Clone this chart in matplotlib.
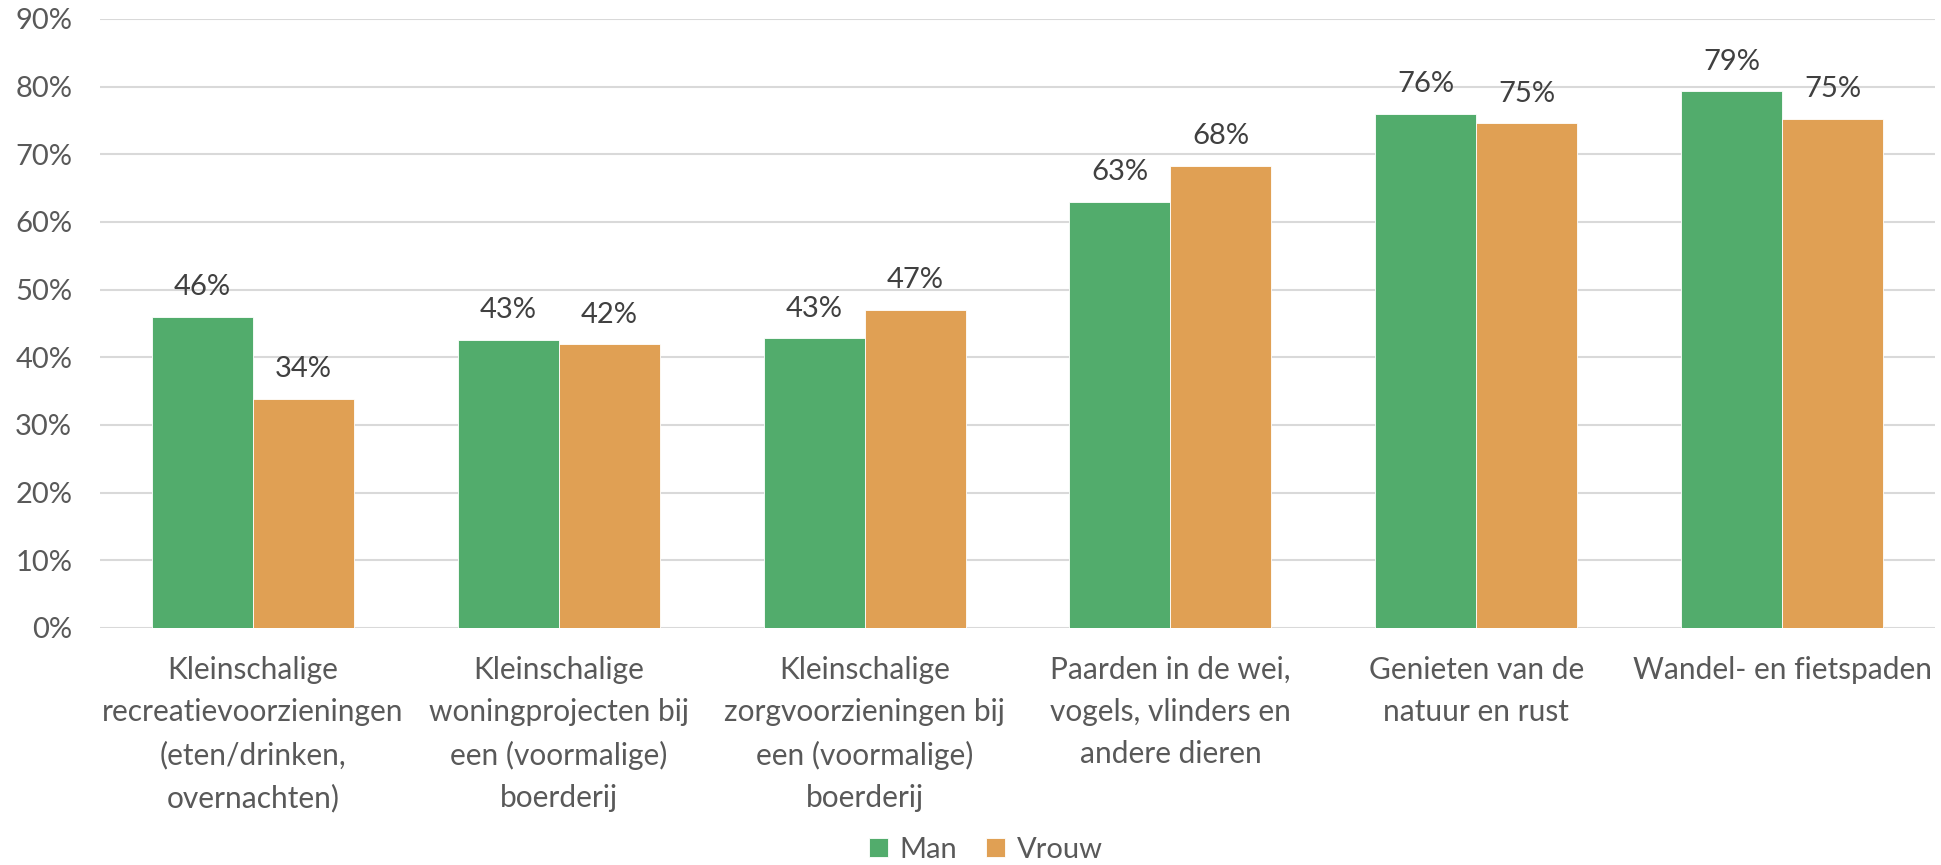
import numpy as np
import matplotlib.pyplot as plt

plt.rcParams["font.family"] = ["Lato", "DejaVu Sans"]

categories = [
    "Kleinschalige\nrecreatievoorzieningen\n(eten/drinken,\novernachten)",
    "Kleinschalige\nwoningprojecten bij\neen (voormalige)\nboerderij",
    "Kleinschalige\nzorgvoorzieningen bij\neen (voormalige)\nboerderij",
    "Paarden in de wei,\nvogels, vlinders en\nandere dieren",
    "Genieten van de\nnatuur en rust",
    "Wandel- en fietspaden",
]
man = [46.0, 42.6, 42.8, 63.0, 76.0, 79.3]
vrouw = [33.9, 41.9, 47.0, 68.3, 74.6, 75.2]
series_names = ["Man", "Vrouw"]
colors = ["#52AC6C", "#E0A054"]

fig = plt.figure(figsize=(19.41, 8.65), dpi=100)
ax = fig.add_axes([100 / 1941, 1 - 628 / 865, 1835 / 1941, 609 / 865])

x = np.arange(len(categories))
w = 0.33

bars_m = ax.bar(x - w / 2, man, w, color=colors[0], label=series_names[0],
                edgecolor="white", linewidth=0.6, zorder=3)
bars_v = ax.bar(x + w / 2, vrouw, w, color=colors[1], label=series_names[1],
                edgecolor="white", linewidth=0.6, zorder=3)

for bars in (bars_m, bars_v):
    for b in bars:
        ax.annotate(f"{b.get_height():.0f}%",
                    (b.get_x() + b.get_width() / 2, b.get_height()),
                    xytext=(0, 12), textcoords="offset points",
                    ha="center", va="bottom", fontsize=21, color="#404040")

ax.set_xlim(-0.5, len(categories) - 0.5)
ax.set_ylim(0, 90)
ax.set_yticks(range(0, 91, 10))
ax.set_yticklabels([f"{v}%" for v in range(0, 91, 10)])
ax.set_xticks(x)
ax.set_xticklabels(categories, linespacing=1.62)

ax.tick_params(axis="y", length=0, pad=20, labelsize=21, labelcolor="#595959")
ax.tick_params(axis="x", length=0, pad=20, labelsize=21.5, labelcolor="#595959")

ax.grid(axis="y", color="#D9D9D9", linewidth=1.5, zorder=0)
for s in ax.spines.values():
    s.set_visible(False)

leg = fig.legend(handles=[bars_m, bars_v], labels=series_names,
                 loc="center", bbox_to_anchor=(986 / 1941, 1 - 850 / 865),
                 ncol=2, frameon=False, fontsize=21, handlelength=0.65,
                 handleheight=0.65, handletextpad=0.4, columnspacing=1.0,
                 labelcolor="#595959")

fig.savefig("out.png", dpi=100)
